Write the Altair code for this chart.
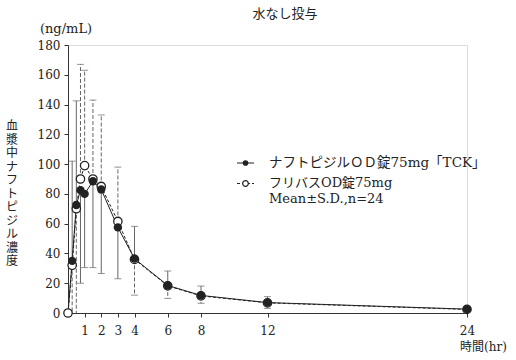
import altair as alt
import pandas as pd

# ---- data ----
times = [0, 0.25, 0.5, 0.75, 1, 1.5, 2, 3, 4, 6, 8, 12, 24]
tck_mean = [0, 35, 72.5, 82.5, 80, 88.5, 83, 57.5, 36.5, 18.5, 11.8, 7.0, 2.6]
tck_sd = [0, 67, 70, 62.5, 49.5, 58, 56.5, 34.5, 21.7, 9.7, 6.3, 4.0, 1.8]
fl_mean = [0, 32, 70, 90, 99, 90, 85, 61.5, 36, 18.2, 11.5, 6.8, 2.4]
fl_sd = [0, 45, 75, 77, 64, 53, 48, 36.5, 24, 8.4, 5.0, 3.7, 1.6]

x_ticks = [1, 2, 3, 4, 6, 8, 12, 24]
y_ticks = [0, 20, 40, 60, 80, 100, 120, 140, 160, 180]

title_text = "水なし投与"
unit_text = "(ng/mL)"
y_title = "血漿中ナフトピジル濃度"
x_title = "時間(hr)"
leg1 = "ナフトピジルＯＤ錠75mg「TCK」"
leg2a = "フリバスOD錠75mg"
leg2b = "Mean±S.D.,n=24"

# ---- tables ----
pts = pd.DataFrame({"time": times, "tck": tck_mean, "fl": fl_mean})

rows = []
for i, t in enumerate(times):
    if tck_sd[i] == 0:
        continue
    tck_up = tck_mean[i] >= fl_mean[i]
    for s, m, sd, up in (("tck", tck_mean[i], tck_sd[i], tck_up),
                         ("fl", fl_mean[i], fl_sd[i], not tck_up)):
        end = m + sd if up else m - sd
        cap = end > 0
        end = max(end, 0)
        rows.append({"time": t, "series": s, "y": m, "y2": end, "cap": cap})
err = pd.DataFrame(rows)

SERIF = "DejaVu Serif"
MIX = "DejaVu Serif, Noto Sans CJK JP"
INK = "#222222"
BAR = "#666666"

xs = alt.Scale(domain=[0, 24], nice=False, zero=True)
ys = alt.Scale(domain=[0, 180], nice=False)

X = alt.X("time:Q", scale=xs,
          axis=alt.Axis(values=x_ticks, title=None, grid=False, tickSize=4,
                        labelPadding=8, labelFont=SERIF, labelFontSize=12,
                        labelColor=INK, domainColor="#333", tickColor="#333",
                        labelFlush=False, labelOverlap=False))
Y_AX = alt.Axis(values=y_ticks, title=None, grid=False, tickSize=4,
                labelPadding=4, labelFont=SERIF, labelFontSize=12,
                labelColor=INK, domainColor="#333", tickColor="#333",
                labelOverlap=False, labelFlush=False)

base = alt.Chart(pts)

line_tck = base.mark_line(color=INK, strokeWidth=1).encode(
    x=X, y=alt.Y("tck:Q", scale=ys, axis=Y_AX))
line_fl = base.mark_line(color=INK, strokeWidth=1, strokeDash=[3, 2]).encode(
    x=X, y=alt.Y("fl:Q", scale=ys, axis=Y_AX))

eb = alt.Chart(err)
rule_tck = eb.transform_filter("datum.series == 'tck'").mark_rule(
    color=BAR, strokeWidth=1).encode(
    x=X, y=alt.Y("y:Q", scale=ys, axis=Y_AX), y2="y2:Q")
rule_fl = eb.transform_filter("datum.series == 'fl'").mark_rule(
    color=BAR, strokeWidth=1, strokeDash=[4, 2]).encode(
    x=X, y=alt.Y("y:Q", scale=ys, axis=Y_AX), y2="y2:Q")
cap_all = eb.transform_filter("datum.cap").mark_tick(
    color=BAR, orient="horizontal", size=7, thickness=1).encode(
    x=X, y=alt.Y("y2:Q", scale=ys, axis=Y_AX))

pt_fl = base.mark_point(shape="circle", filled=True, fill="white", stroke=INK,
                        strokeWidth=1.3, size=70, opacity=1).encode(
    x=X, y=alt.Y("fl:Q", scale=ys, axis=Y_AX))
pt_tck = base.transform_filter("datum.time > 0").mark_point(
    shape="circle", filled=True, color=INK, size=70, opacity=1).encode(
    x=X, y=alt.Y("tck:Q", scale=ys, axis=Y_AX))

# ---- annotations ----
def txt(text, x, y, font=MIX, size=13, align="left", baseline="middle", **kw):
    return alt.Chart(pts).transform_filter("datum.time == 0").mark_text(
        text=text, font=font, fontSize=size, align=align, baseline=baseline,
        color=INK, **kw).encode(x=alt.value(x), y=alt.value(y))

t_title = txt(title_text, 217, -31, font="Noto Sans CJK JP", size=13,
              align="center")
t_unit = txt(unit_text, -2, -16, font=SERIF, size=13, align="center")
t_ytitle = txt("\n".join(y_title), -56, 76, font="Noto Sans CJK JP", size=12,
               align="center", baseline="top", lineBreak="\n",
               lineHeight=13.5)
t_xtitle = txt(x_title, 392, 302, font=MIX, size=12, align="left")

one = alt.Chart(pts).transform_filter("datum.time == 0")
leg_line1 = one.mark_rule(color=INK, strokeWidth=1).encode(
    x=alt.value(169), x2=alt.value(186), y=alt.value(118))
leg_dot1 = one.mark_point(shape="circle", filled=True, color=INK, size=32,
                          opacity=1).encode(x=alt.value(177.5),
                                            y=alt.value(118))
leg_line2 = one.mark_rule(color=INK, strokeWidth=1, strokeDash=[3, 2]).encode(
    x=alt.value(169), x2=alt.value(186), y=alt.value(138.5))
leg_dot2 = one.mark_point(shape="circle", filled=True, fill="white",
                          stroke=INK, strokeWidth=1.2, size=32,
                          opacity=1).encode(x=alt.value(177.5),
                                            y=alt.value(138.5))
t_leg1 = txt(leg1, 201, 118, size=13.5)
t_leg2a = txt(leg2a, 201, 138)
t_leg2b = txt(leg2b, 201, 154, font=SERIF, size=13)

chart = alt.layer(
    rule_tck, rule_fl, cap_all, line_fl, line_tck, pt_fl, pt_tck,
    t_title, t_unit, t_ytitle, t_xtitle,
    leg_line1, leg_line2, leg_dot1, leg_dot2, t_leg1, t_leg2a, t_leg2b,
).properties(
    width=399, height=268,
    autosize=alt.AutoSizeParams(type="none"),
    padding={"left": 68, "top": 45, "right": 49, "bottom": 47},
).configure_view(stroke=None).configure(background="white")

chart.save("out.html", embed_options={"renderer": "svg", "actions": False})
